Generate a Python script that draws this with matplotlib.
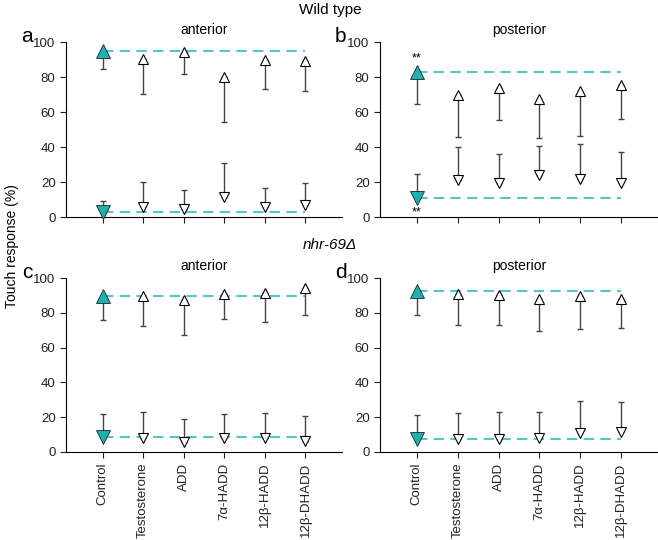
import matplotlib
matplotlib.use("Agg")
import matplotlib.pyplot as plt

plt.rcParams['font.family'] = ['Liberation Sans', 'DejaVu Sans']

# 处理组
groups = ["Control", "Testosterone", "ADD", "7\u03b1-HADD", "12\u03b2-HADD", "12\u03b2-DHADD"]

# 每个面板: 上三角(高值)和下三角(低值), 以及误差条端点
# a: wild type anterior
a_up = [95.2, 90.5, 94.3, 80.0, 89.5, 89.0]
a_up_err = [84.4, 70.5, 81.9, 54.5, 73.3, 72.0]
a_dn = [2.7, 6.0, 4.8, 11.4, 6.0, 7.0]
a_dn_err = [9.1, 20.0, 15.6, 31.0, 16.8, 19.4]
# b: wild type posterior
b_up = [82.8, 70.0, 73.7, 67.4, 72.2, 75.6]
b_up_err = [64.4, 46.0, 55.6, 45.3, 46.3, 55.8]
b_dn = [10.8, 21.0, 19.4, 23.8, 21.7, 19.4]
b_dn_err = [24.4, 40.0, 36.2, 40.8, 41.5, 37.0]
# c: nhr-69 anterior
c_up = [89.7, 89.5, 87.5, 90.6, 91.6, 94.3]
c_up_err = [76.0, 72.6, 67.4, 76.2, 74.9, 78.9]
c_dn = [8.5, 8.2, 5.7, 8.0, 7.9, 6.1]
c_dn_err = [21.6, 23.2, 19.0, 22.0, 22.2, 20.9]
# d: nhr-69 posterior
d_up = [92.3, 91.0, 90.4, 88.1, 89.5, 88.1]
d_up_err = [78.5, 72.8, 73.2, 69.7, 70.7, 71.1]
d_dn = [7.7, 7.7, 7.3, 8.2, 11.0, 11.7]
d_dn_err = [21.5, 22.6, 23.2, 23.2, 29.5, 28.9]

teal = "#1fb0b0"
teal_line = "#55c6c6"

fig = plt.figure(figsize=(6.58, 5.4), dpi=100)

panels = [
    ("a", "anterior", a_up, a_up_err, a_dn, a_dn_err, [0.1003, 0.598, 0.4195, 0.324]),
    ("b", "posterior", b_up, b_up_err, b_dn, b_dn_err, [0.5775, 0.598, 0.4225, 0.324]),
    ("c", "anterior", c_up, c_up_err, c_dn, c_dn_err, [0.1003, 0.163, 0.4195, 0.322]),
    ("d", "posterior", d_up, d_up_err, d_dn, d_dn_err, [0.5775, 0.163, 0.4225, 0.322]),
]

x = list(range(len(groups)))
for letter, side, up, up_err, dn, dn_err, rect in panels:
    ax = fig.add_axes(rect)
    # 参考线 (control 值)
    ax.plot([0, x[-1]], [up[0], up[0]], ls=(0, (5, 3)), color=teal_line, lw=1.5, zorder=1)
    ax.plot([0, x[-1]], [dn[0], dn[0]], ls=(0, (5, 3)), color=teal_line, lw=1.5, zorder=1)
    # 误差条
    for i in x:
        ax.errorbar(i, up[i], yerr=[[up[i] - up_err[i]], [0]], fmt="none",
                    ecolor="#444444", elinewidth=1, capsize=2.5, capthick=1, zorder=2)
        ax.errorbar(i, dn[i], yerr=[[0], [dn_err[i] - dn[i]]], fmt="none",
                    ecolor="#444444", elinewidth=1, capsize=2.5, capthick=1, zorder=2)
    # 标记
    ax.plot(x[1:], up[1:], "^", ms=7.5, mfc="white", mec="black", mew=0.8, ls="none",
            zorder=3, clip_on=False)
    ax.plot(x[1:], dn[1:], "v", ms=7.5, mfc="white", mec="black", mew=0.8, ls="none",
            zorder=3, clip_on=False)
    ax.plot([0], [up[0]], "^", ms=10.5, mfc=teal, mec="#222222", mew=0.6, zorder=4, clip_on=False)
    ax.plot([0], [dn[0]], "v", ms=10.5, mfc=teal, mec="#222222", mew=0.6, zorder=4, clip_on=False)
    if letter == "b":
        ax.text(0, up[0] + 4.5, "**", ha="center", va="bottom", fontsize=9)
        ax.text(0, dn[0] - 5, "**", ha="center", va="top", fontsize=9)

    ax.set_xlim(-0.9, 5.9)
    ax.set_ylim(0, 100)
    ax.set_yticks([0, 20, 40, 60, 80, 100])
    ax.set_xticks(x)
    if letter in ("c", "d"):
        ax.set_xticklabels(groups, rotation=90)
    else:
        ax.set_xticklabels([])
    ax.tick_params(direction="out", length=4, labelsize=9.5, width=0.8, colors="#222222")
    for s in ["top", "right"]:
        ax.spines[s].set_visible(False)
    for s in ["left", "bottom"]:
        ax.spines[s].set_linewidth(0.8)
    ax.set_title(side, fontsize=10, pad=6)
    ax.text(-0.12, 1.03, letter, transform=ax.transAxes, fontsize=15, ha="right", va="center")

fig.text(0.502, 0.982, "Wild type", ha="center", va="center", fontsize=11)
fig.text(0.502, 0.547, "nhr-69\u0394", ha="center", va="center", fontsize=11, style="italic")
fig.text(0.018, 0.545, "Touch response (%)", rotation=90, ha="center", va="center", fontsize=10)

fig.savefig("out.png", dpi=100)
